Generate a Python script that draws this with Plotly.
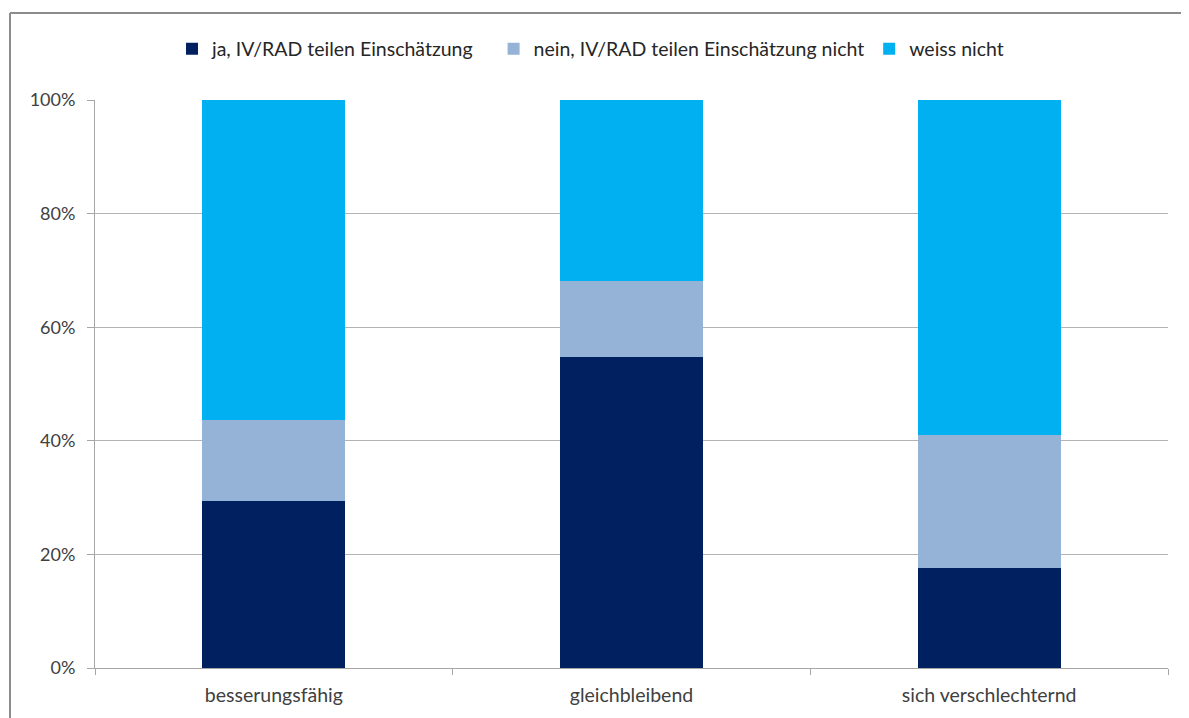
import plotly.graph_objects as go

# Kategorien und Anteile (in %)
categories = ['besserungsfähig', 'gleichbleibend', 'sich verschlechternd']
ja = [29.4, 54.8, 17.6]
nein = [14.2, 13.3, 23.4]
weiss = [56.4, 31.9, 59.0]

series_names = ['ja, IV/RAD teilen Einschätzung',
                'nein, IV/RAD teilen Einschätzung nicht',
                'weiss nicht']
colors = ['#002060', '#95B3D7', '#00B0F0']
pads = [3, 0, 0]  # extra legend spacing after each entry

fig = go.Figure()
for name, vals, col, p in zip(series_names, [ja, nein, weiss], colors, pads):
    fig.add_trace(go.Bar(
        x=categories, y=vals, name=name + '\u00a0' * p,
        marker=dict(color=col, line=dict(width=0)),
    ))

font = 'Lato, Calibri, sans-serif'

# page body has an 8px margin; figure runs a little past the window on the right
W, H = 1189, 710
L, R, T, B = 87, 29, 92, 50
pw, ph = W - L - R, H - T - B

# chart frame: only top and left edges are visible in the original
fx0, fy1 = (2 - L) / pw, (ph + T - 5) / ph
frame = dict(color='#8c8c8c', width=2)

fig.update_layout(
    barmode='stack',
    bargap=0.6,
    width=W, height=H,
    margin=dict(l=L, r=R, t=T, b=B, autoexpand=False),
    paper_bgcolor='white',
    plot_bgcolor='white',
    font=dict(family=font, size=19, color='#404040'),
    showlegend=True,
    legend=dict(
        orientation='h', x=(164 - L) / pw, xanchor='left',
        y=(ph + 51) / ph, yanchor='middle',
        font=dict(size=19.5, color='#262626'),
        itemwidth=30, traceorder='normal',
    ),
    xaxis=dict(
        showline=True, linecolor='#a6a6a6', linewidth=1,
        ticks='outside', tickson='boundaries', ticklen=6, tickcolor='#a6a6a6',
        showgrid=False, tickfont=dict(size=19.5, color='#404040'),
        ticklabelstandoff=10, automargin=False,
    ),
    yaxis=dict(
        range=[0, 100], dtick=20, ticksuffix='%',
        showline=True, linecolor='#a6a6a6', linewidth=1,
        ticks='outside', ticklen=7, tickcolor='#a6a6a6',
        showgrid=True, gridcolor='#b3b3b3', gridwidth=1,
        tickfont=dict(size=18, color='#404040'),
        ticklabelstandoff=8, zeroline=False, automargin=False,
    ),
    shapes=[
        dict(type='line', xref='paper', yref='paper',
             x0=fx0, x1=(W - L) / pw, y0=fy1, y1=fy1, line=frame),
        dict(type='line', xref='paper', yref='paper',
             x0=fx0, x1=fx0, y0=-B / ph, y1=fy1, line=frame),
    ],
)

fig.write_html("out.html")
